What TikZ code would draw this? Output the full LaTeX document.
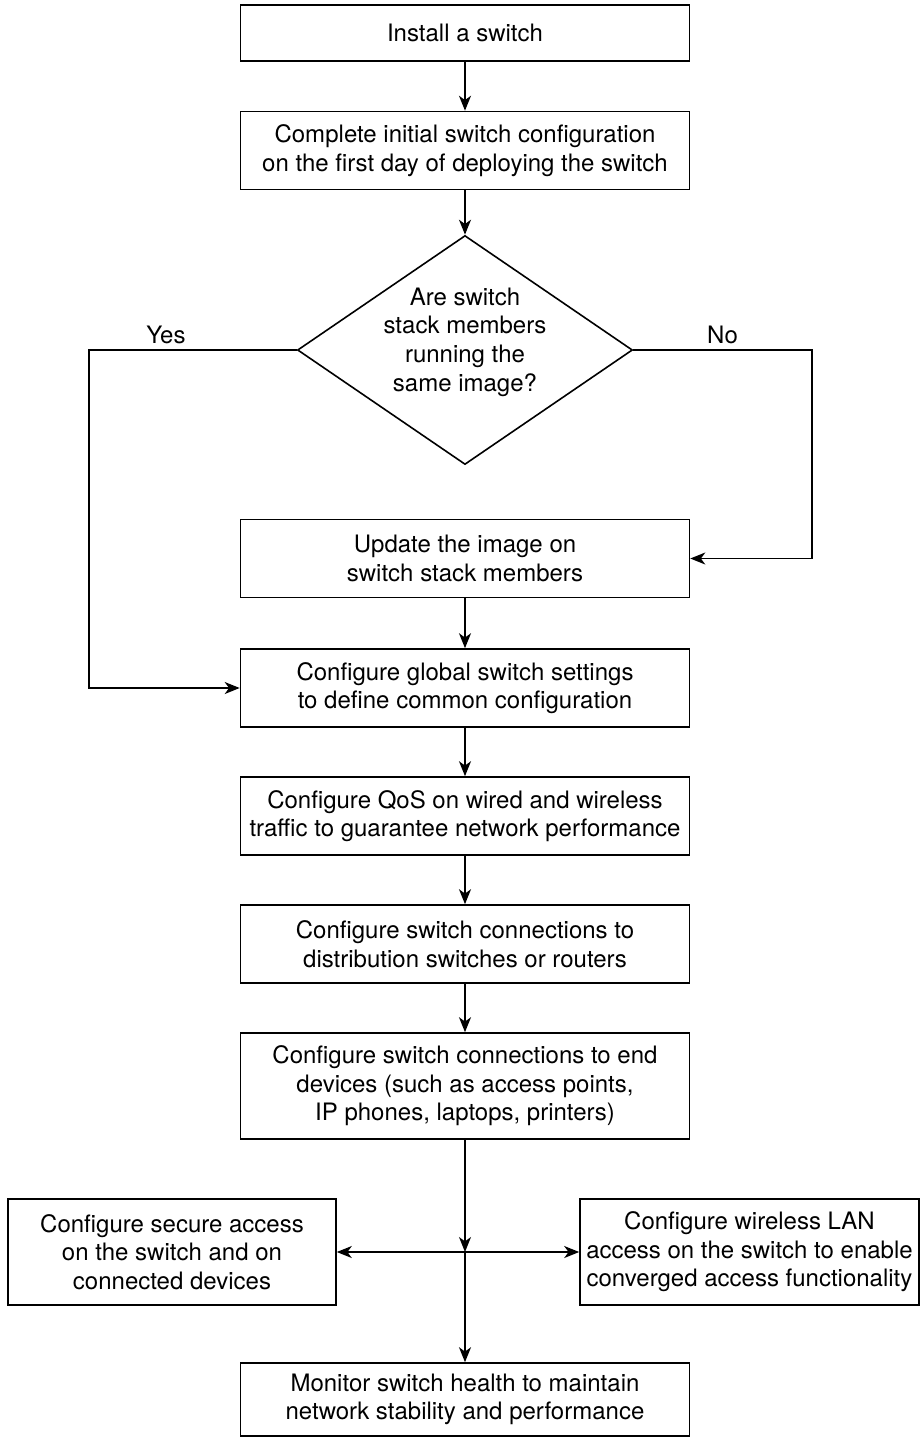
\documentclass[tikz,border=0pt]{standalone}
\usepackage{fontspec}
\setmainfont{TeX Gyre Heros}
\usetikzlibrary{shapes.geometric, arrows.meta, positioning}

\begin{document}
\begin{tikzpicture}[node distance=64pt, on grid, auto, line width=0.8pt,
    >={Stealth[length=7.5pt,width=6pt,inset=2.2pt]},
    font=\fontsize{12}{14.3}\selectfont,
    stepbox/.style={draw, rectangle, align=center, minimum width=224.5pt, minimum height=39pt, inner xsep=2pt},
    choice/.style={draw, diamond, align=center, aspect=1.46, minimum width=167.5pt, minimum height=114.5pt, inner sep=0pt}]
            \useasboundingbox (-232.5pt,16.5pt) rectangle (227.5pt,-702pt);
            \node [stepbox, minimum height=28pt] (install) {Install a switch};
            \node [stepbox] [below=58.75pt of install] (initial) {Complete initial switch configuration\\on the first day of deploying the switch};
            \node [choice] [below=99.75pt of initial] (decide) {\raisebox{3.75pt}[\height][\depth]{\begin{tabular}{@{}c@{}}Are switch\\stack members\\running the\\same image?\end{tabular}}};
            \node [stepbox] [below=104.25pt of decide] (update) {Update the image on\\switch stack members};
            \node [stepbox] [below=64.75pt of update] (global) {Configure global switch settings\\to define common configuration};
            \node [stepbox] [below=of global] (qos) {Configure QoS on wired and wireless\\traffic to guarantee network performance};
            \node [stepbox] [below=of qos] (uplinks) {Configure switch connections to\\distribution switches or routers};
            \node [stepbox, minimum height=53pt] [below=71pt of uplinks] (enddev) {Configure switch connections to end\\devices (such as access points,\\IP phones, laptops, printers)};
            \coordinate [below=83pt of enddev] (hub);
            \node [stepbox, minimum width=164pt, minimum height=53pt] [left=146.5pt of hub, anchor=center] (secure) {Configure secure access\\on the switch and on\\connected devices};
            \node [stepbox, minimum width=169.5pt, minimum height=53pt] [right=142.25pt of hub, anchor=center] (wlan) {Configure wireless LAN\\access on the switch to enable\\converged access functionality};
            \node [stepbox, minimum height=36.5pt] [below=73.75pt of hub, anchor=center] (monitor) {Monitor switch health to maintain\\network stability and performance};
            \coordinate [left=103.75pt of decide.west] (yesturn);
            \coordinate [right=89.25pt of decide.east] (noturn);
            \path[->]
            	(install) edge (initial)
            	(initial) edge (decide)
            	(update) edge (global)
            	(global) edge (qos)
            	(qos) edge (uplinks)
            	(uplinks) edge (enddev)
            	(enddev) edge (hub)
            	(hub) edge (secure)
            		edge (wlan)
            		edge (monitor);
            \draw[->] (decide.west) -- node [above, inner sep=2.5pt, pos=.63] {Yes} (yesturn) |- (global);
            \draw[->] (decide.east) -- node [above, inner sep=2.5pt, pos=.5] {No} (noturn) |- (update);
            \end{tikzpicture}
\end{document}
